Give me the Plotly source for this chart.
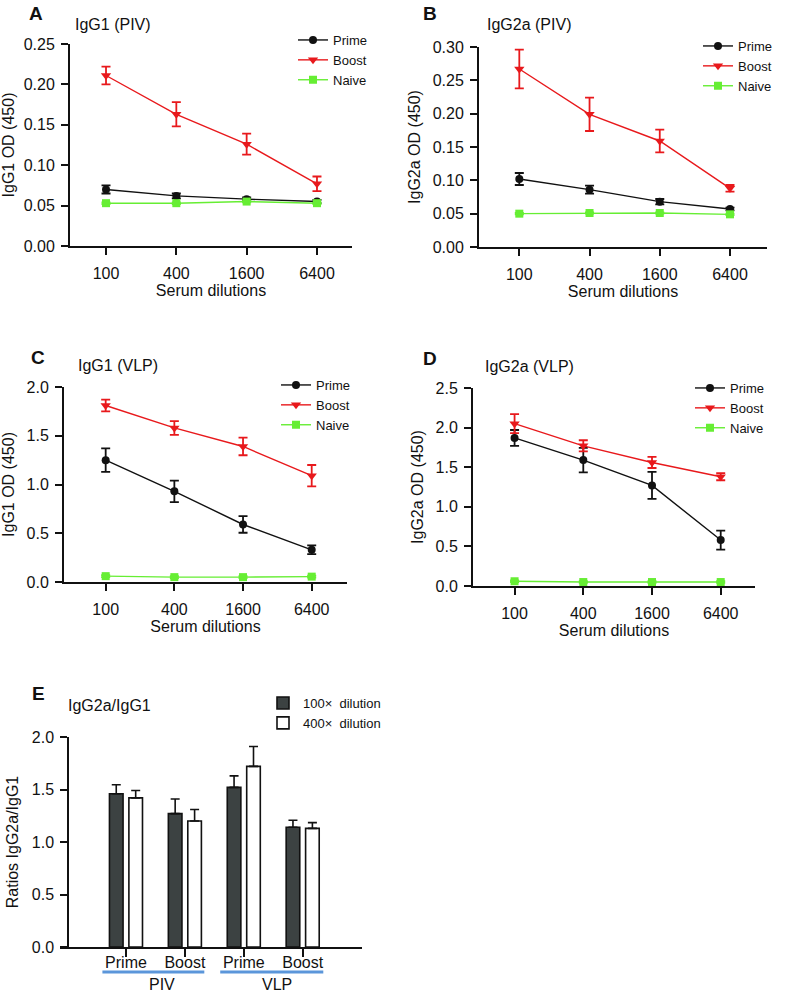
import plotly.graph_objects as go

W, H = 798, 996
FONT = "Liberation Sans, Arial, sans-serif"

# ---------------- data ----------------
dilutions = ["100", "400", "1600", "6400"]
series_names = ["Prime", "Boost", "Naive"]

# A: IgG1 (PIV)
a_prime = [0.070, 0.062, 0.058, 0.055]
a_prime_err = [0.005, 0.003, 0.002, 0.002]
a_boost = [0.211, 0.163, 0.126, 0.077]
a_boost_err = [0.011, 0.015, 0.013, 0.009]
a_naive = [0.053, 0.053, 0.055, 0.053]
a_naive_err = [0.001, 0.001, 0.001, 0.001]

# B: IgG2a (PIV)
b_prime = [0.102, 0.086, 0.068, 0.057]
b_prime_err = [0.009, 0.006, 0.004, 0.002]
b_boost = [0.267, 0.199, 0.159, 0.088]
b_boost_err = [0.029, 0.025, 0.017, 0.005]
b_naive = [0.050, 0.051, 0.051, 0.049]
b_naive_err = [0.001, 0.001, 0.001, 0.001]

# C: IgG1 (VLP)
c_prime = [1.25, 0.93, 0.59, 0.33]
c_prime_err = [0.12, 0.11, 0.085, 0.045]
c_boost = [1.81, 1.58, 1.39, 1.09]
c_boost_err = [0.06, 0.07, 0.09, 0.11]
c_naive = [0.06, 0.05, 0.05, 0.055]
c_naive_err = [0.01, 0.01, 0.01, 0.01]

# D: IgG2a (VLP)
d_prime = [1.87, 1.59, 1.27, 0.58]
d_prime_err = [0.10, 0.155, 0.17, 0.12]
d_boost = [2.05, 1.77, 1.56, 1.38]
d_boost_err = [0.12, 0.07, 0.07, 0.045]
d_naive = [0.06, 0.05, 0.05, 0.05]
d_naive_err = [0.01, 0.01, 0.01, 0.01]

# E: IgG2a/IgG1 ratios
e_groups = ["PIV Prime", "PIV Boost", "VLP Prime", "VLP Boost"]
e_ticklabels = ["Prime", "Boost", "Prime", "Boost"]
e_d100 = [1.46, 1.27, 1.52, 1.14]
e_d100_err = [0.085, 0.14, 0.11, 0.067]
e_d400 = [1.42, 1.20, 1.72, 1.13]
e_d400_err = [0.07, 0.11, 0.19, 0.055]
e_series_names = ["100\u00d7  dilution", "400\u00d7  dilution"]

# ---------------- styles ----------------
RED = "#E8191C"
GREEN = "#66EE33"
BLACK = "#111111"
DARK = "#3C4242"
BLUE = "#5B96DA"


def px_x(p):
    return p / W


def px_y(p):
    return 1 - p / H


fig = go.Figure()

panels = [
    dict(n="", prime=(a_prime, a_prime_err), boost=(a_boost, a_boost_err), naive=(a_naive, a_naive_err),
         xd=(70, 352), yd=(44, 246), xr=(-0.512, 3.498), yr=(0, 0.25), dt=0.05, fmt=".2f",
         leg=(333, 60), ytitle="IgG1 OD (450)"),
    dict(n="2", prime=(b_prime, b_prime_err), boost=(b_boost, b_boost_err), naive=(b_naive, b_naive_err),
         xd=(479, 767), yd=(47, 247), xr=(-0.574, 3.527), yr=(0, 0.30), dt=0.05, fmt=".2f",
         leg=(738, 66), ytitle="IgG2a OD (450)"),
    dict(n="3", prime=(c_prime, c_prime_err), boost=(c_boost, c_boost_err), naive=(c_naive, c_naive_err),
         xd=(64, 347), yd=(387, 582), xr=(-0.607, 3.514), yr=(0, 2.0), dt=0.5, fmt=".1f",
         leg=(316, 405), ytitle="IgG1 OD (450)"),
    dict(n="4", prime=(d_prime, d_prime_err), boost=(d_boost, d_boost_err), naive=(d_naive, d_naive_err),
         xd=(473, 755), yd=(388, 586), xr=(-0.605, 3.499), yr=(0, 2.5), dt=0.5, fmt=".1f",
         leg=(730, 408), ytitle="IgG2a OD (450)"),
]

styles = {
    "Prime": dict(color=BLACK, symbol="circle", size=8),
    "Boost": dict(color=RED, symbol="triangle-down", size=9),
    "Naive": dict(color=GREEN, symbol="square", size=8),
}

layout_axes = {}
for i, p in enumerate(panels):
    n = p["n"]
    legname = "legend" + n
    for key, name in (("prime", "Prime"), ("boost", "Boost"), ("naive", "Naive")):
        vals, errs = p[key]
        st = styles[name]
        fig.add_trace(go.Scatter(
            x=dilutions, y=vals, name=name, mode="lines+markers",
            xaxis="x" + n, yaxis="y" + n, legend=legname,
            line=dict(color=st["color"], width=1.4),
            marker=dict(color=st["color"], symbol=st["symbol"], size=st["size"], line=dict(width=0)),
            error_y=dict(type="data", array=errs, visible=True, color=st["color"],
                         thickness=1.8, width=4.5),
        ))
    layout_axes["xaxis" + n] = dict(
        domain=[px_x(p["xd"][0]), px_x(p["xd"][1])], anchor="y" + n,
        type="category", categoryorder="array", categoryarray=dilutions,
        range=list(p["xr"]), showline=True, linecolor=BLACK, linewidth=2,
        ticks="outside", ticklen=7, tickwidth=2, tickcolor=BLACK,
        showgrid=False, zeroline=False, ticklabelstandoff=5,
        tickfont=dict(family=FONT, size=16, color=BLACK),
        title=dict(text="Serum dilutions", font=dict(family=FONT, size=16, color=BLACK), standoff=2),
    )
    layout_axes["yaxis" + n] = dict(
        domain=[px_y(p["yd"][1]), px_y(p["yd"][0])], anchor="x" + n,
        range=list(p["yr"]), dtick=p["dt"], tickformat=p["fmt"],
        showline=True, linecolor=BLACK, linewidth=2,
        ticks="outside", ticklen=7, tickwidth=2, tickcolor=BLACK,
        showgrid=False, zeroline=False, ticklabelstandoff=3,
        tickfont=dict(family=FONT, size=16, color=BLACK),
        title=dict(text=p["ytitle"], font=dict(family=FONT, size=16, color=BLACK), standoff=8),
    )
    lx, ly = p["leg"]
    layout_axes[legname] = dict(
        x=px_x(lx - 40), y=px_y(ly - 35), xanchor="left", yanchor="top",
        bgcolor="rgba(0,0,0,0)", borderwidth=0, tracegroupgap=0,
        font=dict(family=FONT, size=13, color=BLACK), itemwidth=30,
    )

# ---------------- panel E ----------------
for vals, errs, name, fill in ((e_d100, e_d100_err, e_series_names[0], DARK),
                               (e_d400, e_d400_err, e_series_names[1], "white")):
    fig.add_trace(go.Bar(
        x=e_groups, y=vals, name=name, xaxis="x5", yaxis="y5", legend="legend5",
        marker=dict(color=fill, line=dict(color=BLACK, width=1.6)),
        error_y=dict(type="data", symmetric=False, array=errs, arrayminus=[0] * len(errs),
                     visible=True, color=BLACK, thickness=1.6, width=4.5),
    ))

layout_axes["xaxis5"] = dict(
    domain=[px_x(60), px_x(362)], anchor="y5",
    type="category", categoryorder="array", categoryarray=e_groups,
    range=[-1.12, 4.007], tickvals=e_groups, ticktext=e_ticklabels,
    showline=True, linecolor=BLACK, linewidth=2,
    ticks="outside", ticklen=8, tickwidth=2, tickcolor=BLACK,
    showgrid=False, zeroline=False, ticklabelstandoff=-8,
    tickfont=dict(family=FONT, size=16, color=BLACK),
)
layout_axes["yaxis5"] = dict(
    domain=[px_y(947), px_y(737)], anchor="free", position=px_x(68.3),
    range=[0, 2.0], dtick=0.5, tickformat=".1f",
    showline=True, linecolor=BLACK, linewidth=2,
    ticks="outside", ticklen=7, tickwidth=2, tickcolor=BLACK,
    showgrid=False, zeroline=False, ticklabelstandoff=3,
    tickfont=dict(family=FONT, size=16, color=BLACK),
    title=dict(text="Ratios IgG2a/IgG1", font=dict(family=FONT, size=16, color=BLACK), standoff=8),
)
layout_axes["legend5"] = dict(
    x=px_x(263), y=px_y(713 - 25), xanchor="left", yanchor="top",
    bgcolor="rgba(0,0,0,0)", borderwidth=0, tracegroupgap=0,
    font=dict(family=FONT, size=13, color=BLACK), itemwidth=30,
)

annotations = []
# panel letters
for letter, x, y in (("A", 36, 13), ("B", 430, 13), ("C", 38, 357), ("D", 430, 358), ("E", 38, 693)):
    annotations.append(dict(text="<b>" + letter + "</b>", x=px_x(x), y=px_y(y), xref="paper", yref="paper",
                            showarrow=False, xanchor="center", yanchor="middle",
                            font=dict(family=FONT, size=19, color=BLACK)))
# panel titles
for t, x, y in (("IgG1 (PIV)", 73, 25), ("IgG2a (PIV)", 485, 25), ("IgG1 (VLP)", 76, 365),
                ("IgG2a (VLP)", 483, 367), ("IgG2a/IgG1", 66, 705)):
    annotations.append(dict(text=t, x=px_x(x), y=px_y(y), xref="paper", yref="paper",
                            showarrow=False, xanchor="left", yanchor="middle",
                            font=dict(family=FONT, size=16, color=BLACK)))
# group labels under panel E
for t, xv in (("PIV", 0.606), ("VLP", 2.56)):
    annotations.append(dict(text=t, x=xv, y=px_y(984), xref="x5", yref="paper",
                            showarrow=False, xanchor="center", yanchor="middle",
                            font=dict(family=FONT, size=16, color=BLACK)))

shapes = []
for x0, x1 in ((-0.40, 1.33), (1.60, 3.35)):
    shapes.append(dict(type="line", xref="x5", yref="paper", x0=x0, x1=x1,
                       y0=px_y(972), y1=px_y(972), line=dict(color=BLUE, width=3)))

fig.update_layout(
    width=W, height=H, autosize=False,
    margin=dict(l=0, r=0, t=0, b=0),
    paper_bgcolor="white", plot_bgcolor="white",
    template=None,
    barmode="group", bargap=0.34, bargroupgap=0.30,
    showlegend=True,
    font=dict(family=FONT, color=BLACK),
    annotations=annotations, shapes=shapes,
    **layout_axes,
)

fig.write_html(
    "out.html",
    config={"displayModeBar": False},
    post_script="document.body.style.margin='0';document.body.style.overflow='hidden';",
)
